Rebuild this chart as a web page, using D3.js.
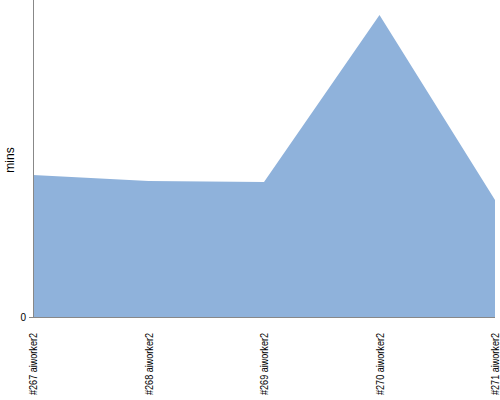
<!DOCTYPE html>
<html><head><meta charset="utf-8">
<script src="https://cdn.jsdelivr.net/npm/d3@7"></script>
<style>body{margin:0;background:#fff}svg{display:block}</style>
</head><body>
<script>
const categories = ["#267 aiworker2","#268 aiworker2","#269 aiworker2","#270 aiworker2","#271 aiworker2"];
const values = [14.2, 13.6, 13.5, 30.2, 11.7];
const yMax = 31.7;
const yTicks = [0];

const W = 500, H = 400;
const m = {left: 33, right: 5, top: 0, bottom: 83};
const svg = d3.select("body").append("svg").attr("width", W).attr("height", H);
const x = d3.scalePoint().domain(categories).range([m.left, W - m.right]);
const y = d3.scaleLinear().domain([0, yMax]).range([H - m.bottom, m.top]);

const data = categories.map((c, i) => ({c, v: values[i]}));
svg.append("path").datum(data)
  .attr("fill", "#8fb2db")
  .attr("d", d3.area().x(d => x(d.c)).y0(y(0)).y1(d => y(d.v)));

const ax = svg.append("g").attr("transform", `translate(0,${H - m.bottom})`)
  .call(d3.axisBottom(x).tickSize(0).tickPadding(0));
ax.select(".domain").attr("stroke", "#888").attr("d", `M${m.left},0.5H${W - m.right}`);
ax.selectAll("text")
  .attr("transform", "rotate(-90)")
  .attr("text-anchor", "end")
  .attr("x", -16).attr("y", 0).attr("dy", "0.35em")
  .attr("textLength", 62).attr("lengthAdjust", "spacingAndGlyphs")
  .style("font-family", "'Liberation Sans', Arial, sans-serif")
  .style("font-size", "10px").attr("fill", "#000");

const ay = svg.append("g").attr("transform", `translate(${m.left},0)`)
  .call(d3.axisLeft(y).tickValues(yTicks).tickSize(4).tickPadding(3));
ay.select(".domain").attr("stroke", "#888").attr("d", `M0.5,${m.top}V${H - m.bottom}`);
ay.selectAll(".tick line").attr("stroke", "#888");
ay.selectAll("text").style("font-family", "'Liberation Sans', Arial, sans-serif").style("font-size", "10px").attr("fill", "#000");

svg.append("text").attr("transform", `translate(14,${160}) rotate(-90)`)
  .attr("text-anchor", "middle")
  .style("font-family", "'Liberation Sans', Arial, sans-serif").style("font-size", "12px")
  .text("mins");
</script>
</body></html>
